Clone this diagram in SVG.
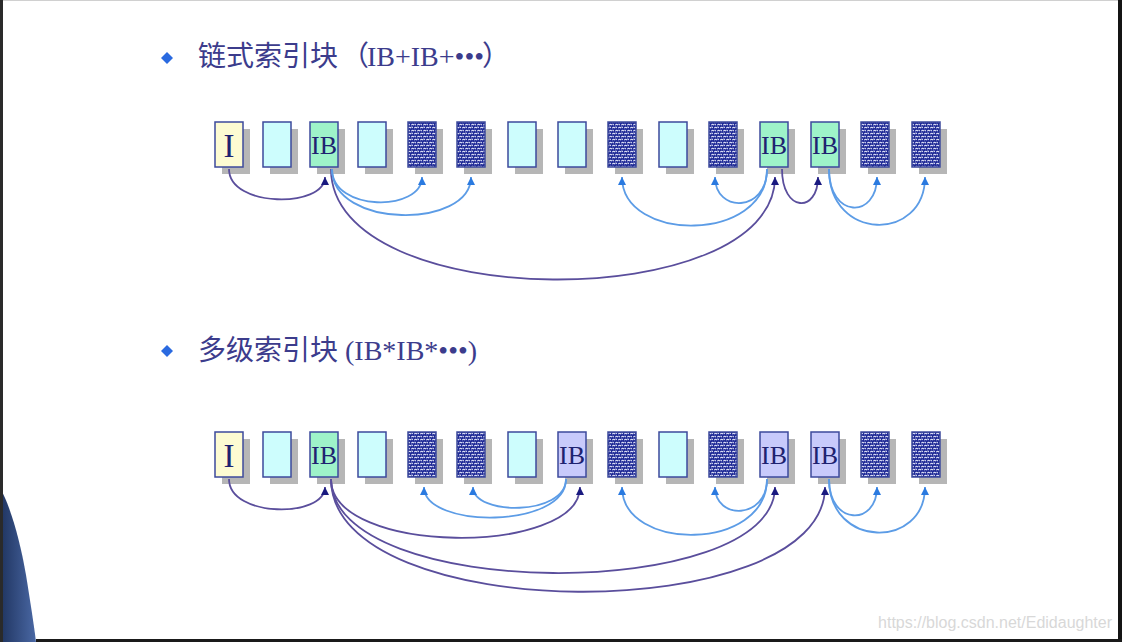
<svg xmlns="http://www.w3.org/2000/svg" width="1122" height="642" viewBox="0 0 1122 642">
<style>
.sh{fill:#b6b6b6}
.bx{stroke:#3c4a9c;stroke-width:1.5}
.i{fill:#fdfbd2}
.e{fill:#cdfdfd}
.g{fill:#9ef3c9}
.v{fill:#c8cafb}
.d{fill:url(#tex)}
.lb{font-family:"Liberation Serif","Times New Roman",serif;fill:#1e2270;text-anchor:middle}
.lbI{font-size:33px}
.lbIB{font-size:26px}
.ttl{font-family:"Noto Sans CJK SC","Noto Sans",sans-serif;font-size:28px;fill:#3c3c8c}
.lat{font-family:"Liberation Serif","Times New Roman",serif;font-size:28px}
.pu{fill:none;stroke:#5a4e9c;stroke-width:1.8}
.bl{fill:none;stroke:#5c9ce6;stroke-width:1.8}
.pua{marker-end:url(#aN)}
.bla{marker-end:url(#aB)}
</style>
<defs>
<pattern id="tex" width="6" height="6" patternUnits="userSpaceOnUse">
<rect width="6" height="6" fill="#1f2a96"/>
<path d="M0.4 2.2 q1.3 -1.8 2.6 0 M3.4 5.2 q1.3 -1.8 2.6 0 M3.6 0.6 l1.1 1.3 M0.6 3.8 l1.1 1.3" stroke="#eef0ff" stroke-width="1.05" fill="none"/>
</pattern>
<marker id="aN" viewBox="0 0 10 10" refX="10" refY="5" markerWidth="8" markerHeight="8" markerUnits="userSpaceOnUse" orient="auto">
<path d="M0 0 L10 5 L0 10 Z" fill="#1a1a80"/>
</marker>
<marker id="aB" viewBox="0 0 10 10" refX="10" refY="5" markerWidth="8" markerHeight="8" markerUnits="userSpaceOnUse" orient="auto">
<path d="M0 0 L10 5 L0 10 Z" fill="#2a7ae0"/>
</marker>
<linearGradient id="fig" x1="0" y1="0" x2="1" y2="0">
<stop offset="0" stop-color="#1f3460"/>
<stop offset="1" stop-color="#4a68a4"/>
</linearGradient>
</defs>

<rect width="1122" height="642" fill="#ffffff"/>

<g id="title1">
<path d="M167 52 L173 58 L167 64 L161 58 Z" fill="#2a6ae0"/>
<text class="ttl" x="198" y="66">链式索引块<tspan x="341">（</tspan><tspan class="lat" x="367">IB+IB+•••</tspan><tspan x="482">）</tspan></text>
</g>
<g id="title2">
<path d="M167 345 L173 351 L167 357 L161 351 Z" fill="#2a6ae0"/>
<text class="ttl" x="198" y="360">多级索引块<tspan class="lat" x="345">(IB*IB*•••)</tspan></text>
</g>

<!-- Row 1 -->
<g id="r1b0"><rect class="sh" x="222" y="129" width="28" height="45"/><rect class="bx i" x="215" y="122" width="28" height="45"/><text class="lb lbI" x="229" y="157">I</text></g>
<g id="r1b1"><rect class="sh" x="270" y="129" width="28" height="45"/><rect class="bx e" x="263" y="122" width="28" height="45"/></g>
<g id="r1b2"><rect class="sh" x="317" y="129" width="28" height="45"/><rect class="bx g" x="310" y="122" width="28" height="45"/><text class="lb lbIB" x="324" y="154">IB</text></g>
<g id="r1b3"><rect class="sh" x="365" y="129" width="28" height="45"/><rect class="bx e" x="358" y="122" width="28" height="45"/></g>
<g id="r1b4"><rect class="sh" x="415" y="129" width="28" height="45"/><rect class="bx d" x="408" y="122" width="28" height="45"/></g>
<g id="r1b5"><rect class="sh" x="464" y="129" width="28" height="45"/><rect class="bx d" x="457" y="122" width="28" height="45"/></g>
<g id="r1b6"><rect class="sh" x="515" y="129" width="28" height="45"/><rect class="bx e" x="508" y="122" width="28" height="45"/></g>
<g id="r1b7"><rect class="sh" x="565" y="129" width="28" height="45"/><rect class="bx e" x="558" y="122" width="28" height="45"/></g>
<g id="r1b8"><rect class="sh" x="615" y="129" width="28" height="45"/><rect class="bx d" x="608" y="122" width="28" height="45"/></g>
<g id="r1b9"><rect class="sh" x="666" y="129" width="28" height="45"/><rect class="bx e" x="659" y="122" width="28" height="45"/></g>
<g id="r1b10"><rect class="sh" x="716" y="129" width="28" height="45"/><rect class="bx d" x="709" y="122" width="28" height="45"/></g>
<g id="r1b11"><rect class="sh" x="767" y="129" width="28" height="45"/><rect class="bx g" x="760" y="122" width="28" height="45"/><text class="lb lbIB" x="774" y="154">IB</text></g>
<g id="r1b12"><rect class="sh" x="818" y="129" width="28" height="45"/><rect class="bx g" x="811" y="122" width="28" height="45"/><text class="lb lbIB" x="825" y="154">IB</text></g>
<g id="r1b13"><rect class="sh" x="868" y="129" width="28" height="45"/><rect class="bx d" x="861" y="122" width="28" height="45"/></g>
<g id="r1b14"><rect class="sh" x="919" y="129" width="28" height="45"/><rect class="bx d" x="912" y="122" width="28" height="45"/></g>

<!-- Row 2 -->
<g id="r2b0"><rect class="sh" x="222" y="439" width="28" height="45"/><rect class="bx i" x="215" y="432" width="28" height="45"/><text class="lb lbI" x="229" y="467">I</text></g>
<g id="r2b1"><rect class="sh" x="270" y="439" width="28" height="45"/><rect class="bx e" x="263" y="432" width="28" height="45"/></g>
<g id="r2b2"><rect class="sh" x="317" y="439" width="28" height="45"/><rect class="bx g" x="310" y="432" width="28" height="45"/><text class="lb lbIB" x="324" y="464">IB</text></g>
<g id="r2b3"><rect class="sh" x="365" y="439" width="28" height="45"/><rect class="bx e" x="358" y="432" width="28" height="45"/></g>
<g id="r2b4"><rect class="sh" x="415" y="439" width="28" height="45"/><rect class="bx d" x="408" y="432" width="28" height="45"/></g>
<g id="r2b5"><rect class="sh" x="464" y="439" width="28" height="45"/><rect class="bx d" x="457" y="432" width="28" height="45"/></g>
<g id="r2b6"><rect class="sh" x="515" y="439" width="28" height="45"/><rect class="bx e" x="508" y="432" width="28" height="45"/></g>
<g id="r2b7"><rect class="sh" x="565" y="439" width="28" height="45"/><rect class="bx v" x="558" y="432" width="28" height="45"/><text class="lb lbIB" x="572" y="464">IB</text></g>
<g id="r2b8"><rect class="sh" x="615" y="439" width="28" height="45"/><rect class="bx d" x="608" y="432" width="28" height="45"/></g>
<g id="r2b9"><rect class="sh" x="666" y="439" width="28" height="45"/><rect class="bx e" x="659" y="432" width="28" height="45"/></g>
<g id="r2b10"><rect class="sh" x="716" y="439" width="28" height="45"/><rect class="bx d" x="709" y="432" width="28" height="45"/></g>
<g id="r2b11"><rect class="sh" x="767" y="439" width="28" height="45"/><rect class="bx v" x="760" y="432" width="28" height="45"/><text class="lb lbIB" x="774" y="464">IB</text></g>
<g id="r2b12"><rect class="sh" x="818" y="439" width="28" height="45"/><rect class="bx v" x="811" y="432" width="28" height="45"/><text class="lb lbIB" x="825" y="464">IB</text></g>
<g id="r2b13"><rect class="sh" x="868" y="439" width="28" height="45"/><rect class="bx d" x="861" y="432" width="28" height="45"/></g>
<g id="r2b14"><rect class="sh" x="919" y="439" width="28" height="45"/><rect class="bx d" x="912" y="432" width="28" height="45"/></g>

<g id="connectors">
<!-- row 1 purple -->
<path class="pu pua" d="M229 169 C229 208 325 208 325 177"/>
<path class="pu pua" d="M331 169 C331 315 775 315 775 177"/>
<path class="pu pua" d="M782 169 C782 213 818 213 818 177"/>
<!-- row 1 blue -->
<path class="bl bla" d="M332 169 C332 212 422 212 422 177"/>
<path class="bl bla" d="M332 169 C332 229 471 229 471 177"/>
<path class="bl bla" d="M767 169 C767 243 622 243 622 177"/>
<path class="bl bla" d="M767 169 C767 213 715 213 715 177"/>
<path class="bl bla" d="M829 169 C829 219 877 219 877 177"/>
<path class="bl bla" d="M829 169 C829 242 925 242 925 177"/>
<!-- row 2 purple -->
<path class="pu pua" d="M229 479 C229 518 325 518 325 487"/>
<path class="pu pua" d="M331 479 C331 556 580 556 580 487"/>
<path class="pu pua" d="M331 479 C331 603 775 603 775 487"/>
<path class="pu pua" d="M331 479 C331 628 825 628 825 487"/>
<!-- row 2 blue -->
<path class="bl bla" d="M566 479 C566 529 424 529 424 487"/>
<path class="bl bla" d="M566 479 C566 516 473 516 473 487"/>
<path class="bl bla" d="M767 479 C767 552 622 552 622 487"/>
<path class="bl bla" d="M767 479 C767 520 715 520 715 487"/>
<path class="bl bla" d="M829 479 C829 526 877 526 877 487"/>
<path class="bl bla" d="M829 479 C829 549 925 549 925 487"/>
</g>

<text x="1112" y="628" font-family="Liberation Sans, Arial, sans-serif" font-size="16" fill="#d8d8d8" text-anchor="end">https://blog.csdn.net/Edidaughter</text>

<path d="M0 488 C10 505 20 540 26 575 C30 600 34 625 36 642 L0 642 Z" fill="url(#fig)"/>
<rect x="0" y="0" width="1122" height="1" fill="#d0d0d0"/>
<rect x="0" y="0" width="3" height="642" fill="#2a2a2a"/>
<rect x="1118" y="0" width="4" height="642" fill="#141414"/>
<rect x="36" y="639" width="1086" height="3" fill="#1a1a1a"/>
</svg>
